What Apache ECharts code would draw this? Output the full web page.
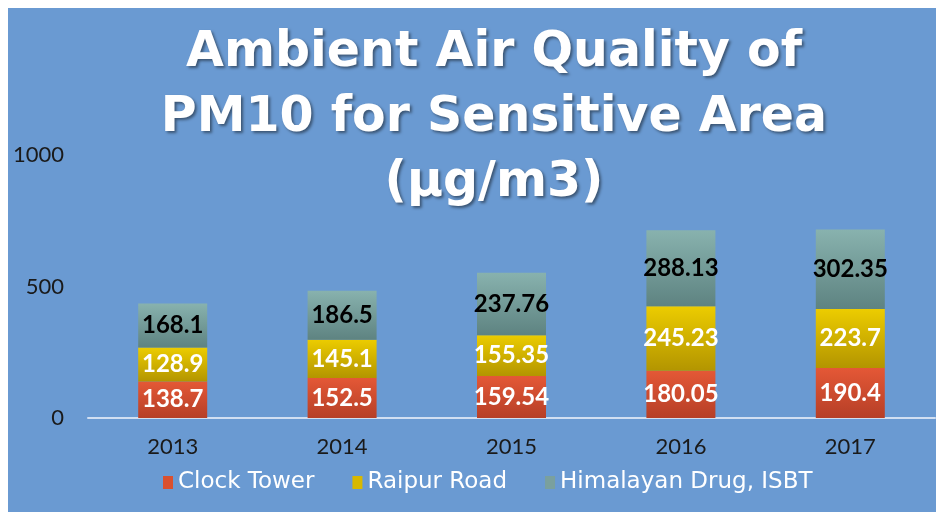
<!DOCTYPE html>
<html>
<head>
<meta charset="utf-8">
<script src="https://cdn.jsdelivr.net/npm/echarts@6/dist/echarts.min.js"></script>
<style>
    html, body { margin: 0; padding: 0; background: #fff; }
    #main { width: 936px; height: 512px; }
</style>
</head>
<body>
<div id="main"></div>
<script>
    var years = ['2013', '2014', '2015', '2016', '2017'];
    var clockTower = [138.7, 152.5, 159.54, 180.05, 190.4];
    var raipurRoad = [128.9, 145.1, 155.35, 245.23, 223.7];
    var himalayan = [168.1, 186.5, 237.76, 288.13, 302.35];
    var yTicks = [0, 500, 1000];

    var myChart = echarts.init(document.getElementById('main'));

    function grad(top, bottom) {
        return new echarts.graphic.LinearGradient(0, 0, 0, 1, [
            {offset: 0, color: top},
            {offset: 1, color: bottom}
        ]);
    }

    //bar segment
    function seg(name, data, top, bottom, txt) {
        return {
            name: name,
            type: 'bar',
            stack: 'pm',
            barWidth: 69,
            data: data,
            itemStyle: {color: grad(top, bottom)},
            label: {
                show: true,
                position: 'inside',
                color: txt,
                fontFamily: 'Lato',
                fontWeight: 'bold',
                fontSize: 24
            }
        };
    }

    var option = {
        backgroundColor: '#fff',
        graphic: [{
            type: 'rect',
            z: -10,
            shape: {x: 8, y: 8, width: 928, height: 504},
            style: {fill: '#6a9ad2'}
        }],
        title: {
            text: 'Ambient Air Quality of\nPM10 for Sensitive Area\n(µg/m3)',
            left: 489,
            textAlign: 'center',
            top: 16,
            textStyle: {
                color: '#fff',
                fontFamily: 'DejaVu Sans',
                fontWeight: 'bold',
                fontSize: 49,
                lineHeight: 65,
                textShadowColor: 'rgba(0,0,0,0.45)',
                textShadowBlur: 3,
                textShadowOffsetX: 2,
                textShadowOffsetY: 2
            }
        },
        legend: {
            bottom: 13,
            left: 158,
            itemWidth: 10,
            itemHeight: 13,
            itemGap: 38,
            icon: 'rect',
            textStyle: {color: '#fff', fontFamily: 'DejaVu Sans', fontSize: 23},
            data: [
                {name: 'Clock Tower', itemStyle: {color: '#d9502f'}},
                {name: 'Raipur Road', itemStyle: {color: '#d8b800'}},
                {name: 'Himalayan Drug, ISBT', itemStyle: {color: '#7aa09e'}}
            ]
        },
        grid: {left: 88, right: 1, top: 155, bottom: 94},
        xAxis: {
            type: 'category',
            data: years,
            axisLine: {lineStyle: {color: 'rgba(235,240,250,0.8)', width: 2}},
            axisTick: {show: false},
            axisLabel: {color: '#1a1a1a', fontFamily: 'Lato', fontSize: 22, margin: 18}
        },
        yAxis: {
            type: 'value',
            min: yTicks[0],
            max: yTicks[yTicks.length - 1],
            interval: 500,
            splitLine: {show: false},
            axisLine: {show: false},
            axisTick: {show: false},
            axisLabel: {
                color: '#1a1a1a', fontFamily: 'Lato', fontSize: 22, margin: 24,
                formatter: function (v) { return String(v); }
            }
        },
        series: [
            seg('Clock Tower', clockTower, '#e45836', '#b63f27', '#fff'),
            seg('Raipur Road', raipurRoad, '#eccc00', '#b39500', '#fff'),
            seg('Himalayan Drug, ISBT', himalayan, '#88b2ae', '#5e8381', '#000')
        ]
    };

    myChart.setOption(option);
</script>
</body>
</html>
